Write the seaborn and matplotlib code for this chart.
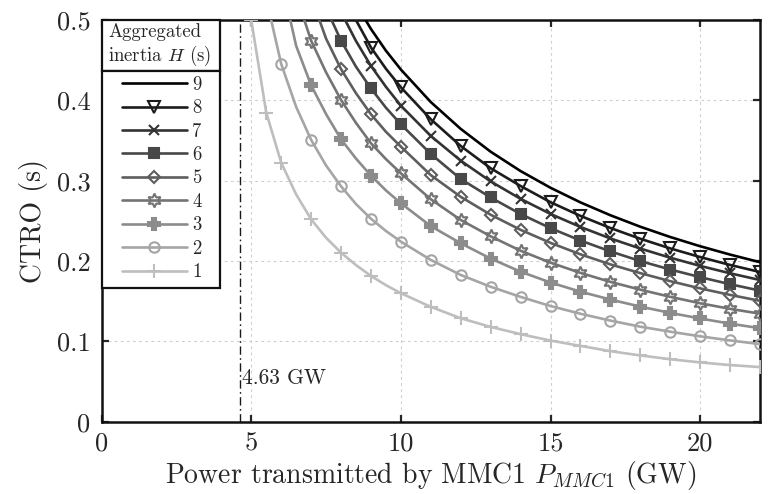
import numpy as np
import matplotlib
matplotlib.use("Agg")
import matplotlib.pyplot as plt
from matplotlib.lines import Line2D
from matplotlib.patches import Rectangle
from matplotlib.ticker import FuncFormatter
import seaborn as sns

nan = np.nan
# Power transmitted by MMC1 (GW) - common sampling grid
P = [5, 5.5, 6, 6.5, 7, 7.5, 8, 8.5, 9, 9.5, 10, 11, 12, 13, 14, 15, 16, 17, 18, 19, 20, 21, 22]
# positions where markers are drawn
MARKER_P = [5, 5.5, 6, 7, 8, 9, 10, 11, 12, 13, 14, 15, 16, 17, 18, 19, 20, 21, 22]

H_values = [9, 8, 7, 6, 5, 4, 3, 2, 1]
ctro_H1 = [0.500, 0.385, 0.3225, 0.283, 0.252, 0.229, 0.2105, 0.195, 0.1815, 0.170, 0.160, 0.143, 0.1288,
           0.118, 0.109, 0.101, 0.0944, 0.0878, 0.0825, 0.0778, 0.0738, 0.0705, 0.0680]
ctro_H2 = [nan, 0.527, 0.4455, 0.392, 0.351, 0.319, 0.2931, 0.271, 0.2527, 0.2375, 0.2242, 0.2014, 0.1827,
           0.168, 0.1554, 0.144, 0.1344, 0.1259, 0.1183, 0.1121, 0.1063, 0.1012, 0.0966]
ctro_H3 = [nan, nan, 0.55, 0.468, 0.419, 0.383, 0.3517, 0.3276, 0.3064, 0.288, 0.272, 0.2435, 0.2222,
           0.2031, 0.1868, 0.1733, 0.1619, 0.1521, 0.1433, 0.1355, 0.1285, 0.1221, 0.1164]
ctro_H4 = [nan, nan, nan, 0.531, 0.4745, 0.435, 0.4006, 0.372, 0.3467, 0.327, 0.3093, 0.277, 0.2512,
           0.2308, 0.2129, 0.198, 0.1853, 0.1741, 0.1644, 0.1555, 0.1475, 0.1405, 0.1345]
ctro_H5 = [nan, nan, nan, nan, 0.529, 0.477, 0.439, 0.409, 0.3828, 0.361, 0.3425, 0.307, 0.280,
           0.2577, 0.2389, 0.2227, 0.2084, 0.1959, 0.185, 0.175, 0.166, 0.1579, 0.1505]
ctro_H6 = [nan, nan, nan, nan, nan, 0.515, 0.4745, 0.442, 0.415, 0.391, 0.3703, 0.3334, 0.3022,
           0.2792, 0.2586, 0.241, 0.2256, 0.2121, 0.200, 0.1895, 0.180, 0.1712, 0.1632]
ctro_H7 = [nan, nan, nan, nan, nan, nan, 0.510, 0.474, 0.443, 0.417, 0.3935, 0.3558, 0.325,
           0.2992, 0.2775, 0.2587, 0.2425, 0.2282, 0.2156, 0.2042, 0.194, 0.1848, 0.1764]
ctro_H8 = [nan, nan, nan, nan, nan, nan, 0.536, 0.500, 0.466, 0.4395, 0.4164, 0.3766, 0.3433,
           0.3156, 0.2935, 0.2733, 0.2563, 0.2412, 0.2278, 0.2158, 0.205, 0.1952, 0.1864]
ctro_H9 = [nan, nan, nan, nan, nan, nan, nan, 0.520, 0.489, 0.462, 0.4385, 0.398, 0.3646,
           0.3362, 0.3121, 0.2913, 0.2731, 0.2571, 0.2428, 0.230, 0.2185, 0.2081, 0.1986]
series = {1: ctro_H1, 2: ctro_H2, 3: ctro_H3, 4: ctro_H4, 5: ctro_H5,
          6: ctro_H6, 7: ctro_H7, 8: ctro_H8, 9: ctro_H9}

x_ticks = [0, 5, 10, 15, 20]
y_ticks = [0, 0.1, 0.2, 0.3, 0.4, 0.5]
P_limit = 4.63
legend_title = "Aggregated\ninertia $H$ (s)"
x_label = "Power transmitted by MMC1 $P_{MMC1}$ (GW)"
y_label = "CTRO (s)"

colors = {9: "#000000", 8: "#1c1c1c", 7: "#333333", 6: "#484848", 5: "#5e5e5e",
          4: "#747474", 3: "#8c8c8c", 2: "#a5a5a5", 1: "#bebebe"}
# (marker, filled)
markers = {9: (None, False), 8: ("v", False), 7: ("x", False), 6: ("s", True), 5: ("D", False),
           4: ((6, 1, 0), False), 3: ("P", True), 2: ("o", False), 1: ("+", False)}
msizes = {9: 0, 8: 9, 7: 6.5, 6: 7, 5: 6.5, 4: 10, 3: 8.5, 2: 7.5, 1: 10}

sns.set_theme(style="ticks")
plt.rcParams["font.family"] = ["cmr10", "DejaVu Serif"]
plt.rcParams["mathtext.fontset"] = "cm"
plt.rcParams["axes.formatter.use_mathtext"] = True
plt.rcParams["axes.unicode_minus"] = False

fig = plt.figure(figsize=(7.69, 4.94), dpi=100)
ax = fig.add_axes([0.1322, 0.1464, 0.8561, 0.8127])

P_arr = np.array(P, dtype=float)
for H in H_values:
    y = np.array(series[H], dtype=float)
    valid = ~np.isnan(y)
    xs = P_arr[valid]
    ys = y[valid]
    mask = [bool(np.any(np.isclose(v, MARKER_P))) for v in xs]
    c = colors[H]
    m, filled = markers[H]
    kws = dict(color=c, lw=1.9, estimator=None, sort=False, legend=False, ax=ax, zorder=3)
    if m is not None:
        kws.update(marker=m, markevery=mask, markersize=msizes[H],
                   markeredgecolor=c, markeredgewidth=1.5,
                   markerfacecolor=(c if filled else "none"))
    sns.lineplot(x=xs, y=ys, **kws)

ax.axvline(P_limit, color="k", lw=1.0, ls=(0, (6, 2.5, 1.2, 2.5)), zorder=2)
ax.text(P_limit + 0.07, 0.054, f"{P_limit:.2f} GW", fontsize=15.5, va="center", ha="left")

ax.set_xlim(0, 22)
ax.set_ylim(0, 0.5)
ax.set_xticks(x_ticks)
ax.set_yticks(y_ticks)
ax.xaxis.set_major_formatter(FuncFormatter(lambda v, p: f"{v:g}"))
ax.yaxis.set_major_formatter(FuncFormatter(lambda v, p: f"{v:g}"))
ax.tick_params(direction="in", length=5, width=1.6, labelsize=19, top=True, right=True)
ax.tick_params(axis="x", pad=7)
ax.tick_params(axis="y", pad=8)
ax.grid(True, ls=(0, (2.5, 3)), color="#cfcfcf", lw=0.8)
ax.set_axisbelow(True)
for s in ax.spines.values():
    s.set_linewidth(1.8)
    s.set_color("#111111")
ax.set_xlabel(x_label, fontsize=20, labelpad=3)
ax.set_ylabel(y_label, fontsize=20, labelpad=6)

# legend boxes
lw_box = 1.6
leg_w = 0.1797
ax.add_patch(Rectangle((0, 0.874), leg_w, 0.126, transform=ax.transAxes, facecolor="white",
                       edgecolor="#111111", lw=lw_box, zorder=6, clip_on=False))
ax.add_patch(Rectangle((0, 0.332), leg_w, 0.542, transform=ax.transAxes, facecolor="white",
                       edgecolor="#111111", lw=lw_box, zorder=6, clip_on=False))
ax.text(0.0095, 0.992, legend_title, transform=ax.transAxes, fontsize=13.5, va="top", ha="left",
        linespacing=1.12, zorder=7)

handles = []
for H in H_values:
    c = colors[H]
    m, filled = markers[H]
    if m is None:
        handles.append(Line2D([], [], color=c, lw=1.9))
    else:
        handles.append(Line2D([], [], color=c, lw=1.9, marker=m, markersize=msizes[H],
                              markeredgecolor=c, markeredgewidth=1.5,
                              markerfacecolor=(c if filled else "none")))
leg = ax.legend(handles, [str(h) for h in H_values], loc="upper left",
                bbox_to_anchor=(0.0304, 0.8618), frameon=False, borderpad=0, borderaxespad=0,
                handlelength=3.5, handletextpad=0.25, labelspacing=0.295, fontsize=13.5)
leg.set_zorder(8)

fig.savefig("out.png", dpi=100)
